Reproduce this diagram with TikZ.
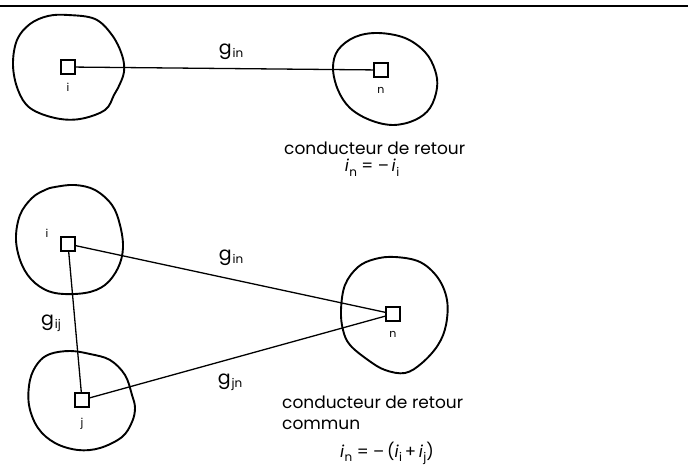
\documentclass[tikz,border=0pt]{standalone}
\usepackage{fontspec}
\setmainfont{Poppins}
\newcommand{\gsub}[1]{g\kern1pt\raisebox{-0.3ex}{\fontsize{12}{12}\selectfont #1}}
\newcommand{\cursub}[1]{\textit{i}\kern0.3pt\raisebox{-0.45ex}{\fontsize{12}{12}\selectfont #1}}
\begin{document}
\begin{tikzpicture}[x=1pt,y=-1pt,
  blob/.style={line width=1.9pt, line join=round},
  conn/.style={line width=1.3pt},
  sq/.style={draw, line width=1.6pt, minimum size=14pt, inner sep=0pt, fill=white},
  lbl/.style={font=\fontsize{11}{11}\selectfont, inner sep=0pt},
  glbl/.style={font=\fontsize{19}{19}\selectfont, inner sep=0pt},
  eq/.style={font=\fontsize{16.5}{16.5}\selectfont, inner sep=0pt, anchor=base},
  txt/.style={font=\fontsize{17}{17}\selectfont, inner sep=0pt, anchor=base west}]
\useasboundingbox (0,0) rectangle (694,468);
% top rule
\coordinate (r1) at (0,6);
\coordinate (r2) at (688,6);
\draw[line width=1.7pt] (r1) -- (r2);

% ---- top figure ----
\draw[blob] plot[smooth cycle, tension=0.6] coordinates {(68,15) (95,19) (112,35) (122,55) (124,72) (118,88) (114,95) (105,110) (80,119) (55,118) (30,108) (18,90) (13,65) (17,40) (30,24) (48,16)};
\draw[blob] plot[smooth cycle, tension=0.6] coordinates {(378,33) (405,38) (425,52) (435,70) (437,88) (430,108) (415,120) (393,125) (370,120) (350,108) (338,90) (333,68) (338,50) (355,37)};
\node[sq] (i1) at (68,67) {};
\node[sq] (n1) at (381,70) {};
\draw[conn] (i1) -- (n1);
\node[lbl] (li1) at (68,87) {i};
\node[lbl] (ln1) at (381,90) {n};
\node[glbl] (g1) at (231,52) {\gsub{in}};
\node[txt] (t1) at (284,155) {conducteur de retour};
\node[eq] (e1) at (372,172) {\cursub{n} = –\,\cursub{i}};

% ---- bottom figure ----
\draw[blob] plot[smooth cycle, tension=0.6] coordinates {(55,187) (75,185) (95,190) (112,205) (120,225) (123,248) (118,268) (105,285) (85,293) (55,293) (35,283) (22,265) (16,240) (20,215) (32,198) (45,190)};
\draw[blob] plot[smooth cycle, tension=0.6] coordinates {(50,354) (70,351) (90,354) (110,360) (125,375) (132,395) (135,408) (132,422) (122,437) (100,448) (78,450) (55,443) (38,428) (29,405) (30,380) (38,363)};
\draw[blob] plot[smooth cycle, tension=0.6] coordinates {(395,257) (420,262) (438,278) (447,300) (446,325) (438,345) (422,363) (405,373) (385,370) (368,360) (350,345) (343,330) (341,310) (345,285) (358,267) (375,259)};
\node[sq] (i2) at (68,244) {};
\node[sq] (j2) at (82,400) {};
\node[sq] (n2) at (393,314) {};
\draw[conn] (i2) -- (n2);
\draw[conn] (i2) -- (j2);
\draw[conn] (j2) -- (n2);
\node[lbl] (li2) at (47,233) {i};
\node[lbl] (lj2) at (82,424) {j};
\node[lbl] (ln2) at (393,334) {n};
\node[glbl] (g2) at (231,258) {\gsub{in}};
\node[glbl] (g3) at (51,323) {\gsub{ij}};
\node[glbl] (g4) at (230,382) {\gsub{jn}};
\node[txt] (t2) at (282,408) {conducteur de retour};
\node[txt] (t3) at (282,429) {commun};
\node[eq] (e2) at (387,457) {\cursub{n} = –\,(\cursub{i}\,+\,\cursub{j})};
\end{tikzpicture}
\end{document}
